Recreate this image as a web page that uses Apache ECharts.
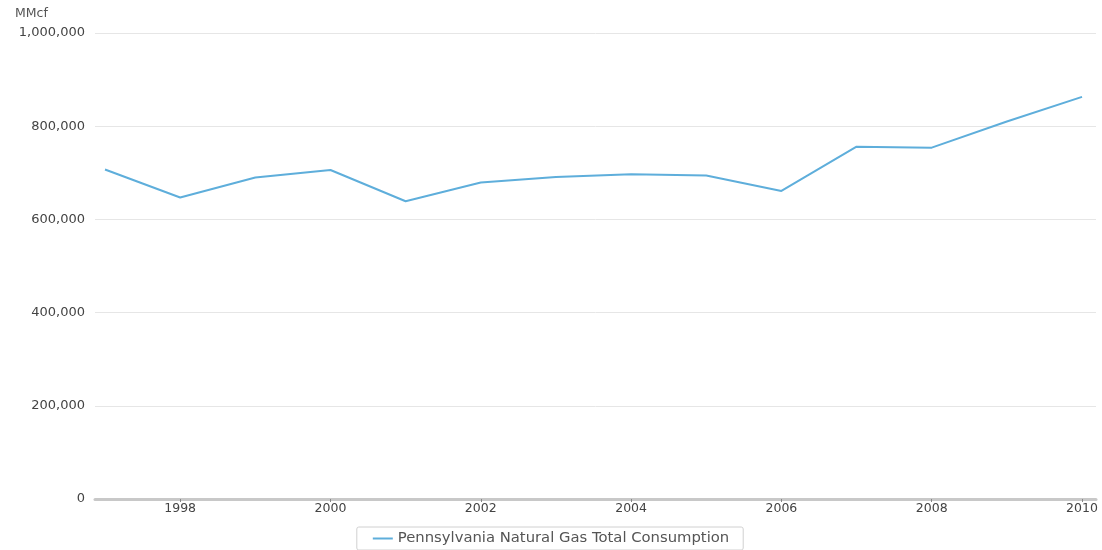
<!DOCTYPE html>
<html><head><meta charset="utf-8">
<script src="https://cdn.jsdelivr.net/npm/echarts@6/dist/echarts.min.js"></script>
<style>html,body{margin:0;padding:0;background:#fff}#c{width:1102px;height:550px}</style>
</head><body><div id="c"></div>
<script>
const years = [1997,1998,1999,2000,2001,2002,2003,2004,2005,2006,2007,2008,2009,2010];
const consumption = [707000,647000,690000,706000,639000,679000,691000,697000,694000,661000,756000,754000,810000,863000];
const xTickLabels = [1998,2000,2002,2004,2006,2008,2010];
const seriesName = 'Pennsylvania Natural Gas Total Consumption';
const unitLabel = 'MMcf';
const FONT = 'DejaVu Sans, sans-serif';

const chart = echarts.init(document.getElementById('c'));
chart.setOption({
  animation:false,
  grid:{left:95,right:6,top:33,bottom:51,containLabel:false},
  legend:{
    bottom:0, left:'center',
    data:[seriesName],
    borderColor:'#d0d0d0', borderWidth:1, borderRadius:2,
    padding:[4,14,4,16],
    itemWidth:20, itemHeight:10, itemGap:8,
    icon:'path://M0,4h20v2h-20z',
    textStyle:{fontSize:14.8,color:'#555',fontFamily:FONT}
  },
  xAxis:{
    type:'value', min:1996.867, max:2010.186,
    axisLine:{show:true,lineStyle:{color:'#c8c8c8',width:3}},
    axisTick:{show:true,customValues:xTickLabels,length:3,lineStyle:{color:'#888'}},
    axisLabel:{customValues:xTickLabels,color:'#444',fontSize:12.5,margin:3,
      fontFamily:FONT,formatter:v=>String(v)},
    splitLine:{show:false}
  },
  yAxis:{
    type:'value', min:0, max:1000000, interval:200000,
    name:unitLabel, nameLocation:'end', nameGap:13,
    nameTextStyle:{color:'#555',fontSize:12.5,align:'left',padding:[0,0,0,-80],
      fontFamily:FONT},
    axisLine:{show:false}, axisTick:{show:false},
    axisLabel:{color:'#444',fontSize:13,margin:10,
      fontFamily:FONT,
      formatter:v=>v.toLocaleString('en-US')},
    splitLine:{lineStyle:{color:'#e6e6e6',width:1}}
  },
  series:[{
    name:seriesName, type:'line',
    data:years.map((y,i)=>[y,consumption[i]]),
    showSymbol:false, symbol:'none',
    lineStyle:{color:'#5eaedb',width:2},
    itemStyle:{color:'#5eaedb'}
  }]
});
</script></body></html>
